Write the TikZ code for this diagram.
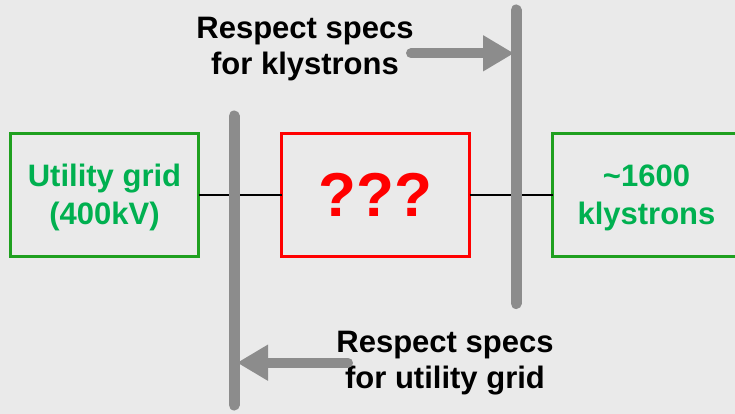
\documentclass[tikz,border=0pt]{standalone}
\usepackage{fontspec}
\setmainfont{Liberation Sans}
\usetikzlibrary{arrows.meta,positioning}
\definecolor{bggray}{HTML}{EAEAEA}
\definecolor{bargray}{HTML}{8C8C8C}
\definecolor{textgreen}{HTML}{00B050}
\definecolor{edgegreen}{HTML}{1FA01F}
\definecolor{convred}{HTML}{FF0000}
\tikzset{
  greenbox/.style={draw=edgegreen, line width=2.6pt, outer sep=0pt, inner sep=0pt,
    minimum width=188pt, minimum height=123pt, align=center, text=textgreen,
    font=\fontsize{31}{38}\selectfont\bfseries, text depth=0.5pt},
  redbox/.style={greenbox, draw=convred, text=convred,
    font=\fontsize{62}{70}\selectfont\bfseries, text depth=0pt},
  wire/.style={line width=2pt, draw=black},
  busbar/.style={line width=11pt, draw=bargray, line cap=round},
  specarr/.style={line width=10pt, draw=bargray, line cap=round,
    -{Triangle[length=31pt, width=34pt]}},
  speclabel/.style={align=center, inner sep=0pt,
    font=\fontsize{31}{35.5}\selectfont\bfseries}
}
\begin{document}
\begin{tikzpicture}[x=1pt, y=-1pt, node distance=83pt]
    \useasboundingbox (0,0) rectangle (735,414);
    \fill[bggray] (0,0) rectangle (735,414);
    \clip (0,0) rectangle (735,414);
    % boxes
    \node[greenbox] (grid) at (104.5,195) {Utility grid\\(400kV)};
    \node[redbox, right=of grid] (conv) {???};
    \node[greenbox, right=of conv] (klys) {\textasciitilde1600\\klystrons};
    \draw[wire] (grid) -- (conv);
    \draw[wire] (conv) -- (klys);
    % bus bars
    \coordinate (busLtop) at (234,116);
    \coordinate (busLbot) at (234,405);
    \coordinate (busRtop) at (516,10);
    \coordinate (busRbot) at (516,303.5);
    \draw[busbar] (busLtop) -- (busLbot);
    \draw[busbar] (busRtop) -- (busRbot);
    % specs
    \node[speclabel] (specK) at (305,49) {Respect specs\\for klystrons};
    \node[speclabel] (specU) at (445,363) {Respect specs\\for utility grid};
    \coordinate (kstart) at (411,53.3);
    \coordinate (khit) at (514,53.3);
    \coordinate (ustart) at (348,362.7);
    \coordinate (uhit) at (237,362.7);
    \draw[specarr] (kstart) -- (khit);
    \draw[specarr] (ustart) -- (uhit);
  \end{tikzpicture}
\end{document}
